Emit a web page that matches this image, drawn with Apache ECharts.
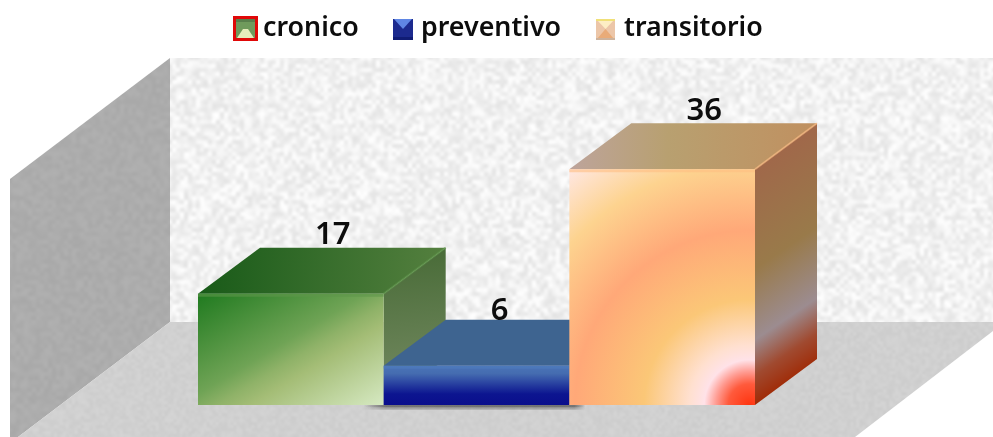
<!DOCTYPE html>
<html><head><meta charset="utf-8">
<style>html,body{margin:0;padding:0;background:#fff}#c{width:993px;height:437px}</style>
<script src="https://cdn.jsdelivr.net/npm/echarts@6/dist/echarts.min.js"></script>
</head><body><div id="c"></div>
<script>
var categories = ['cronico', 'preventivo', 'transitorio'];
var values = [17, 6, 36];
var axisMax = 40;

var DX = 62, DY = 46;
var FONT = '"Noto Sans"';

// deterministic grain for the wall and floor textures
function texture(base, amp, cell, size) {
  var seed = 12345;
  function rnd() { seed = (seed * 1103515245 + 12345) & 0x7fffffff; return seed / 0x7fffffff; }
  var small = document.createElement('canvas');
  var n = Math.ceil(size / cell);
  small.width = small.height = n;
  var s = small.getContext('2d');
  for (var y = 0; y < n; y++) for (var x = 0; x < n; x++) {
    var v = Math.round(base + (rnd() - 0.5) * amp);
    s.fillStyle = 'rgb(' + v + ',' + v + ',' + v + ')';
    s.fillRect(x, y, 1, 1);
  }
  var c = document.createElement('canvas');
  c.width = c.height = size;
  var g = c.getContext('2d');
  g.imageSmoothingEnabled = true;
  g.imageSmoothingQuality = 'high';
  g.drawImage(small, 0, 0, size, size);
  return c;
}

function lin(x2, y2, stops) {
  return { type: 'linear', x: 0, y: 0, x2: x2, y2: y2,
    colorStops: stops.map(function (s) { return { offset: s[0], color: s[1] }; }) };
}
function rad(x, y, r, stops) {
  return { type: 'radial', x: x, y: y, r: r,
    colorStops: stops.map(function (s) { return { offset: s[0], color: s[1] }; }) };
}

var looks = {
  cronico: {
    front: lin(0.53, 1.47, [[0, '#1f7a1f'], [0.45, '#6fa355'], [0.55, '#8fb268'], [0.64, '#a4bd76'], [1, '#d6e9c2']]),
    top: lin(1, 0.25, [[0, '#185a18'], [1, '#55803f']]),
    side: lin(0.3, 1, [[0, '#476a36'], [1, '#778c64']]),
    bevel: 'rgba(95,150,75,0.6)', dx: 11, dy: -12
  },
  preventivo: {
    front: lin(0, 1, [[0, '#4a74b8'], [0.2, '#456cb0'], [0.72, '#0c1590'], [1, '#0a0e8c']]),
    top: '#3e6490',
    side: '#32527a',
    bevel: 'rgba(80,125,190,0.5)', dx: -8, dy: -9
  },
  transitorio: {
    front: rad(0.97, 1, 1.62, [[0, '#ff3510'], [0.07, '#ff5a3c'], [0.11, '#ff9a90'], [0.15, '#ffe2e8'], [0.2, '#ffe0d0'],
      [0.35, '#fbc777'], [0.58, '#ffa878'], [0.8, '#fdd38f'], [1, '#ffe9ea']]),
    top: lin(1, 0.1, [[0, '#bda49c'], [0.4, '#b8a070'], [1, '#c09060']]),
    side: lin(2.42, 0.787, [[0, '#aa7050'], [0.14, '#a0684a'], [0.45, '#997a4a'], [0.67, '#9c8c90'],
      [0.78, '#a04a30'], [0.87, '#a02c08'], [1, '#a02c08']]),
    bevel: 'rgba(255,190,130,0.6)', dx: 11, dy: -12
  }
};

function renderBar(look) {
  return function (params, api) {
    var i = api.value(0), v = api.value(1);
    var w = api.size([1, 0])[0];
    var tc = api.coord([i, v]), bc = api.coord([i, 0]);
    var x0 = tc[0] - w / 2, x1 = tc[0] + w / 2, yt = tc[1], yb = bc[1];
    var kids = [];
    if (params.seriesName === 'preventivo') {
      [[5, 0.2], [3.5, 0.3], [2, 0.4]].forEach(function (s) {
        kids.push({ type: 'rect', shape: { x: x0 - 20, y: yb, width: w + 36, height: s[0] },
          style: { fill: { type: 'linear', x: 0, y: 0, x2: 1, y2: 0, colorStops: [
            { offset: 0, color: 'rgba(70,70,70,0)' }, { offset: 0.1, color: 'rgba(70,70,70,' + s[1] + ')' },
            { offset: 0.95, color: 'rgba(70,70,70,' + s[1] + ')' }, { offset: 1, color: 'rgba(70,70,70,0)' }] } } });
      });
    }
    kids.push({ type: 'polygon', shape: { points: [[x1, yt], [x1 + DX, yt - DY], [x1 + DX, yb - DY], [x1, yb]] },
      style: { fill: look.side } });
    kids.push({ type: 'polygon', shape: { points: [[x0, yt], [x0 + DX, yt - DY], [x1 + DX, yt - DY], [x1, yt]] },
      style: { fill: look.top } });
    kids.push({ type: 'line', shape: { x1: x1, y1: yt, x2: x1 + DX, y2: yt - DY },
      style: { stroke: look.bevel, lineWidth: 2 } });
    kids.push({ type: 'rect', shape: { x: x0, y: yt, width: w, height: yb - yt }, style: { fill: look.front } });
    kids.push({ type: 'rect', shape: { x: x0, y: yt, width: w, height: 3 }, style: { fill: look.bevel } });
    kids.push({ type: 'text', x: tc[0] + DX / 2 + look.dx, y: yt - DY + look.dy,
      style: { text: String(v), fill: '#0d0d0d', font: '600 31px ' + FONT, align: 'center', verticalAlign: 'middle' } });
    return { type: 'group', children: kids };
  };
}

function icon(w, h, draw) {
  var c = document.createElement('canvas');
  c.width = w; c.height = h;
  draw(c.getContext('2d'));
  return 'image://' + c.toDataURL();
}
function tri(g, pts, fill) {
  g.fillStyle = fill; g.beginPath(); g.moveTo(pts[0][0], pts[0][1]);
  for (var i = 1; i < pts.length; i++) g.lineTo(pts[i][0], pts[i][1]);
  g.closePath(); g.fill();
}
var icons = {
  cronico: icon(25, 25, function (g) {
    g.fillStyle = '#e00808'; g.fillRect(0, 0, 25, 25);
    g.fillStyle = '#6f9a5c'; g.fillRect(3, 3, 19, 19);
    g.fillStyle = '#587f4c'; g.fillRect(3, 3, 19, 3);
    tri(g, [[4, 22], [10, 13], [15, 13], [21, 22]], '#e6ecbc');
  }),
  preventivo: icon(23, 25, function (g) {
    g.translate(0, 3);
    g.fillStyle = '#1c2a8e'; g.fillRect(0, 0, 20, 21);
    tri(g, [[1, 0], [19, 0], [10, 10]], '#5f86e4');
    g.fillStyle = '#101c74'; g.fillRect(0, 18, 20, 3);
  }),
  transitorio: icon(23, 25, function (g) {
    g.translate(0, 3);
    g.fillStyle = '#ecc6a8'; g.fillRect(0, 0, 19, 21);
    tri(g, [[1, 1], [18, 1], [9.5, 10]], '#fdeec4');
    tri(g, [[1, 20], [18, 20], [9.5, 10]], '#e9ab78');
    g.fillStyle = '#f0e078'; g.fillRect(0, 0, 19, 2);
    g.fillStyle = '#cdb39d'; g.fillRect(0, 19, 19, 2);
  })
};

function legendFor(name, left, iw) {
  return {
    data: [{ name: name, icon: icons[name] }], left: left, top: 15,
    itemWidth: iw, itemHeight: 25, padding: 0, selectedMode: false,
    textStyle: { fontFamily: FONT, fontSize: 26.8, fontWeight: 600, color: '#0d0d0d' }
  };
}

var chart = echarts.init(document.getElementById('c'), null, { renderer: 'canvas' });
chart.setOption({
  animation: false,
  backgroundColor: '#fff',
  grid: { left: 198, width: 557, top: 143, height: 262 },
  xAxis: { type: 'category', data: categories, show: false, boundaryGap: true },
  yAxis: { type: 'value', min: 0, max: axisMax, show: false },
  legend: [
    legendFor('cronico', 233, 25),
    legendFor('preventivo', 393, 23),
    legendFor('transitorio', 596, 23)
  ],
  graphic: [
    { type: 'polygon', silent: true, shape: { points: [[170, 58], [993, 58], [993, 322], [170, 322]] },
      style: { fill: { image: texture(241, 26, 4, 1000), repeat: 'repeat' } } },
    { type: 'polygon', silent: true, shape: { points: [[10, 179], [170, 58], [170, 322], [18, 437], [10, 437]] },
      style: { fill: { image: texture(172, 9, 4, 1000), repeat: 'repeat' } } },
    { type: 'polygon', silent: true, shape: { points: [[170, 322], [993, 322], [993, 331], [855, 437], [18, 437]] },
      style: { fill: { image: texture(208, 8, 3, 1000), repeat: 'repeat' } } }
  ],
  series: categories.map(function (name, i) {
    return {
      type: 'custom', name: name, coordinateSystem: 'cartesian2d',
      data: [[i, values[i]]], encode: { x: 0, y: 1 },
      renderItem: renderBar(looks[name]), clip: false, silent: true
    };
  })
});
</script></body></html>
